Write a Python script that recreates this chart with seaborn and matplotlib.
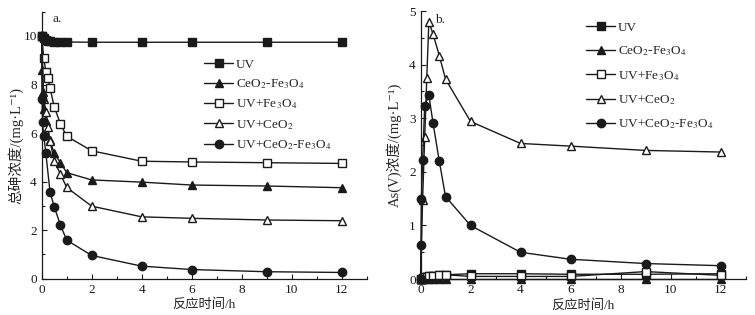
import numpy as np
import pandas as pd
import matplotlib
matplotlib.use('Agg')
import matplotlib.pyplot as plt
from matplotlib.ticker import MultipleLocator
import seaborn as sns

# time grids (h)
t_slow = [0, 0.083, 0.167, 0.25, 0.333, 0.5, 0.75, 1, 2, 4, 6, 9, 12]
t_fast = [0, 0.017, 0.033, 0.083, 0.167, 0.333, 0.5, 0.75, 1, 2, 4, 6, 9, 12]

labels = ['UV', 'CeO$_2$-Fe$_3$O$_4$', 'UV+Fe$_3$O$_4$', 'UV+CeO$_2$', 'UV+CeO$_2$-Fe$_3$O$_4$']

# a. total As
a_uv = [10.0, 9.92, 9.85, 9.8, 9.78, 9.76, 9.75, 9.75, 9.74, 9.74, 9.74, 9.74, 9.74]
a_ceo2_fe3o4 = [10.0, 8.6, 7.7, 7.0, 6.5, 5.7, 5.17, 4.78, 4.37, 4.07, 3.98, 3.86, 3.82, 3.75]
a_uv_fe3o4 = [10.0, 9.09, 8.53, 8.27, 7.86, 7.09, 6.38, 5.87, 5.27, 4.84, 4.81, 4.78, 4.75]
a_uv_ceo2 = [10.0, 7.4, 6.85, 6.24, 5.67, 4.86, 4.31, 3.76, 2.99, 2.55, 2.49, 2.42, 2.39]
a_uv_ceo2_fe3o4 = [10.0, 7.4, 6.47, 5.88, 5.17, 3.58, 2.97, 2.21, 1.59, 0.96, 0.52, 0.38, 0.29, 0.26]

# b. As(V)
b_uv = [0, 0.02, 0.03, 0.04, 0.05, 0.06, 0.07, 0.08, 0.1, 0.1, 0.09, 0.09, 0.1]
b_ceo2_fe3o4 = [0, 0, 0, 0, 0, 0, 0, 0, 0, 0, 0, 0, 0, 0]
b_uv_fe3o4 = [0, 0.02, 0.03, 0.04, 0.05, 0.06, 0.07, 0.08, 0.05, 0.05, 0.05, 0.14, 0.07]
b_uv_ceo2 = [0, 1.48, 2.65, 3.76, 4.80, 4.57, 4.17, 3.73, 2.94, 2.53, 2.48, 2.40, 2.37]
b_uv_ceo2_fe3o4 = [0, 0.64, 1.49, 2.22, 3.23, 3.43, 2.91, 2.2, 1.54, 1.0, 0.5, 0.37, 0.29, 0.25]

times = [t_slow, t_fast, t_slow, t_slow, t_fast]
markers = ['s', '^', 's', '^', 'o']
faces = ['k', 'k', 'w', 'w', 'k']

sns.set_theme(style='ticks')
plt.rcParams['font.family'] = ['Liberation Serif', 'Noto Sans CJK SC', 'DejaVu Serif']
plt.rcParams['mathtext.fontset'] = 'stix'
plt.rcParams['axes.unicode_minus'] = False

fig = plt.figure(figsize=(7.55, 3.15), dpi=100)
ax1 = fig.add_axes([0.0552, 0.115, 0.4308, 0.848])
ax2 = fig.add_axes([0.557, 0.114, 0.4305, 0.851])


def draw(ax, series):
    for t, y, lab, m, fc in zip(times, series, labels, markers, faces):
        df = pd.DataFrame({'t': t, 'c': y})
        sns.lineplot(data=df, x='t', y='c', ax=ax, color='k', lw=1, marker=m,
                     markersize=6, markerfacecolor=fc, markeredgecolor='k',
                     markeredgewidth=1, label=lab, clip_on=False)
    ax.set_xlim(0, 13)
    ax.set_xticks(range(0, 13, 2))
    ax.xaxis.set_minor_locator(MultipleLocator(1))
    ax.tick_params(which='both', direction='in', labelsize=9.5, width=0.8, colors='k')
    ax.tick_params(which='major', length=3.5)
    ax.tick_params(which='minor', length=2)
    for s in ['top', 'right']:
        ax.spines[s].set_visible(False)
    for s in ['left', 'bottom']:
        ax.spines[s].set_linewidth(0.9)
        ax.spines[s].set_color('k')
    ax.set_xlabel('反应时间/h', fontsize=9.5, labelpad=2)


draw(ax1, [a_uv, a_ceo2_fe3o4, a_uv_fe3o4, a_uv_ceo2, a_uv_ceo2_fe3o4])
ax1.set_ylim(0, 11)
ax1.set_yticks(range(0, 11, 2))
ax1.yaxis.set_minor_locator(MultipleLocator(1))
ax1.set_ylabel('总砷浓度/(mg·L⁻¹)', fontsize=10.5, labelpad=0)
ax1.text(0.032, 0.995, 'a.', transform=ax1.transAxes, fontsize=9.5, va='top')
ax1.legend(loc='upper left', bbox_to_anchor=(0.48, 0.85), frameon=False, fontsize=9.5,
           handlelength=2.2, handletextpad=0.2, labelspacing=0.5, borderpad=0)

draw(ax2, [b_uv, b_ceo2_fe3o4, b_uv_fe3o4, b_uv_ceo2, b_uv_ceo2_fe3o4])
ax2.set_ylim(0, 5)
ax2.set_yticks(range(0, 6))
ax2.yaxis.set_minor_locator(MultipleLocator(0.5))
ax2.set_ylabel('As(V)浓度/(mg·L⁻¹)', fontsize=10.5, labelpad=5)
ax2.text(0.045, 0.99, 'b.', transform=ax2.transAxes, fontsize=9.5, va='top')
ax2.legend(loc='upper left', bbox_to_anchor=(0.49, 0.985), frameon=False, fontsize=9.5,
           handlelength=2.2, handletextpad=0.2, labelspacing=0.8, borderpad=0)

fig.savefig('out.png', dpi=100)
